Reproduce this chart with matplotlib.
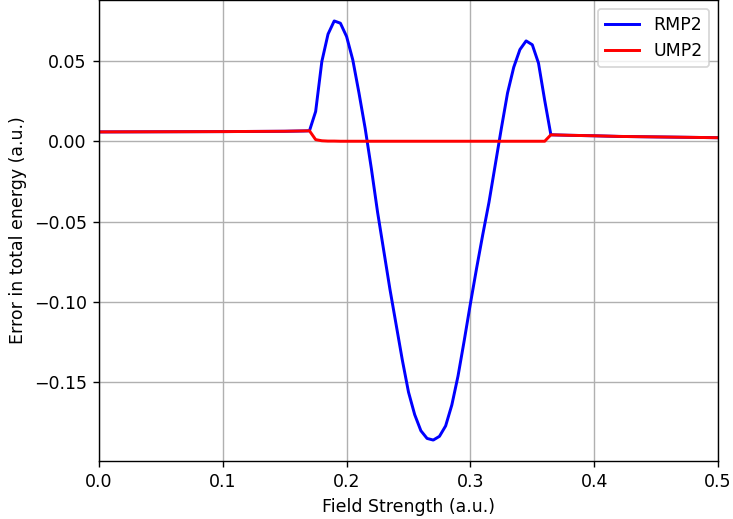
import numpy as np
import matplotlib
matplotlib.use("Agg")
import matplotlib.pyplot as plt

# field strength grid (a.u.)
x_left = [0.0, 0.05, 0.10, 0.15, 0.165]
x_mid = [0.170, 0.175, 0.180, 0.185, 0.190, 0.195, 0.200, 0.205, 0.210, 0.215,
         0.220, 0.225, 0.230, 0.235, 0.240, 0.245, 0.250, 0.255, 0.260, 0.265,
         0.270, 0.275, 0.280, 0.285, 0.290, 0.295, 0.300, 0.305, 0.310, 0.315,
         0.320, 0.325, 0.330, 0.335, 0.340, 0.345, 0.350, 0.355, 0.360, 0.365]
x_right = [0.38, 0.40, 0.42, 0.45, 0.48, 0.50]

# shared error on the outer parts
err_left = [0.0058, 0.0059, 0.0060, 0.0062, 0.0064]
err_right = [0.0037, 0.0034, 0.0030, 0.0027, 0.0024, 0.0022]

rmp2_mid = [0.0065, 0.0185, 0.0496, 0.0666, 0.0748, 0.0734, 0.0651, 0.0506, 0.0300, 0.0080,
            -0.0170, -0.0440, -0.0680, -0.0920, -0.1140, -0.1360, -0.1560, -0.1700, -0.1800, -0.1848,
            -0.1858, -0.1835, -0.1770, -0.1640, -0.1460, -0.1240, -0.1010, -0.0790, -0.0580, -0.0380,
            -0.0150, 0.0080, 0.0300, 0.0460, 0.0570, 0.0624, 0.0600, 0.0486, 0.0255, 0.0040]
ump2_mid = [0.0065, 0.0010, 0.0003, 0.0001, 0.0001, 0.0, 0.0, 0.0, 0.0, 0.0,
            0.0, 0.0, 0.0, 0.0, 0.0, 0.0, 0.0, 0.0, 0.0, 0.0,
            0.0, 0.0, 0.0, 0.0, 0.0, 0.0, 0.0, 0.0, 0.0, 0.0,
            0.0, 0.0, 0.0, 0.0, 0.0, 0.0, 0.0, 0.0, 0.0, 0.0040]

x = np.array(x_left + x_mid + x_right)
rmp2 = np.array(err_left + rmp2_mid + err_right)
ump2 = np.array(err_left + ump2_mid + err_right)

fig = plt.figure(figsize=(733 / 125, 519 / 125), dpi=125)
ax = fig.add_axes([99 / 733, 58 / 519, 619 / 733, 461 / 519])
ax.plot(x, rmp2, color='b', lw=1.7, label='RMP2')
ax.plot(x, ump2, color='r', lw=1.7, label='UMP2')
ax.set_xlim(0, 0.5)
ax.set_xlabel('Field Strength (a.u.)')
ax.set_ylabel('Error in total energy (a.u.)')
ax.grid(True)
ax.legend(loc='upper right')
fig.savefig('out.png', dpi=125)
